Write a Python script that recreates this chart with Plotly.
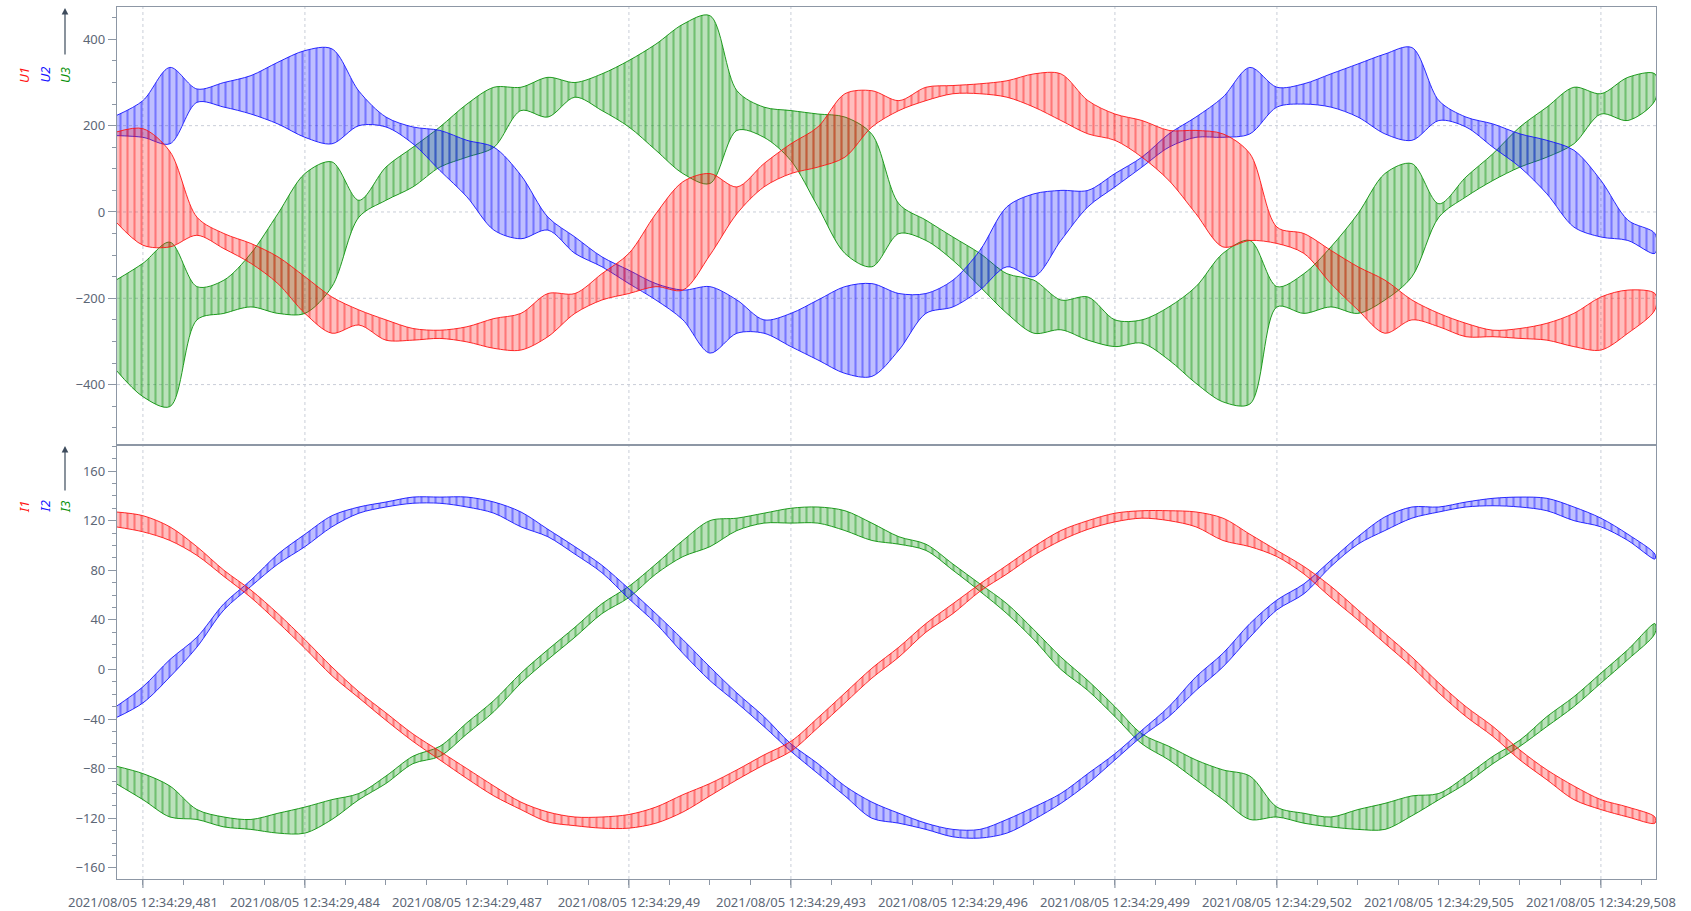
import plotly.graph_objects as go
from plotly.subplots import make_subplots

# Sample instants, in ms after 12:34:29,480
T_MS = [0.5, 1.0, 1.5, 2.0, 2.5, 3.0, 3.5, 4.0, 4.5, 5.0,
        5.5, 6.0, 6.5, 7.0, 7.5, 8.0, 8.5, 9.0, 9.5, 10.0,
        10.5, 11.0, 11.5, 12.0, 12.5, 13.0, 13.5, 14.0, 14.5, 15.0,
        15.5, 16.0, 16.5, 17.0, 17.5, 18.0, 18.5, 19.0, 19.5, 20.0,
        20.5, 21.0, 21.5, 22.0, 22.5, 23.0, 23.5, 24.0, 24.5, 25.0,
        25.5, 26.0, 26.5, 27.0, 27.5, 28.0, 28.5, 29.0]

# Voltages: upper / lower envelope of the switching ripple (V)
U1_HI = [185, 193, 140, -12, -50, -73, -104, -150, -197, -227,
         -250, -270, -274, -266, -247, -235, -189, -189, -143, -96,
         -4, 70, 89, 58, 112, 158, 197, 274, 281, 258,
         289, 293, 297, 304, 320, 320, 258, 227, 212, 189,
         189, 181, 135, -35, -50, -89, -127, -158, -204, -235,
         -258, -274, -270, -258, -235, -197, -181, -189]
U1_LO = [-23, -77, -81, -54, -85, -119, -166, -235, -281, -262,
         -297, -297, -293, -301, -316, -320, -289, -235, -204, -189,
         -173, -181, -100, -4, 58, 89, 104, 127, 197, 235,
         258, 274, 274, 266, 243, 212, 181, 166, 127, 73,
         -4, -81, -66, -73, -96, -166, -227, -281, -250, -266,
         -289, -289, -293, -297, -312, -320, -281, -227]
U2_HI = [223, 258, 335, 285, 300, 316, 347, 374, 378, 280,
         220, 197, 189, 166, 150, 85, -12, -58, -104, -135,
         -166, -181, -173, -204, -250, -235, -204, -173, -166, -189,
         -189, -158, -89, 12, 42, 50, 50, 89, 127, 181,
         220, 266, 335, 289, 297, 320, 343, 366, 381, 258,
         220, 204, 181, 166, 143, 73, -19, -50]
U2_LO = [177, 173, 158, 254, 243, 227, 204, 173, 158, 200,
         197, 158, 96, 35, -42, -62, -42, -96, -127, -166,
         -204, -250, -327, -281, -281, -312, -343, -374, -381, -320,
         -235, -220, -181, -127, -150, -66, 12, 58, 104, 150,
         173, 173, 181, 243, 250, 243, 220, 181, 166, 212,
         197, 150, 104, 42, -35, -58, -66, -96]
U3_HI = [-158, -119, -70, -173, -158, -96, -4, 89, 116, 27,
         104, 150, 197, 250, 289, 289, 312, 300, 320, 351,
         389, 435, 455, 281, 243, 235, 227, 220, 180, 19,
         -19, -58, -96, -143, -158, -204, -197, -250, -250, -220,
         -173, -96, -66, -173, -143, -81, -4, 89, 112, 19,
         81, 135, 197, 243, 289, 274, 312, 320]
U3_LO = [-366, -428, -451, -250, -235, -220, -235, -235, -173, -12,
         27, 58, 104, 127, 150, 235, 220, 266, 235, 197,
         143, 89, 66, 189, 173, 119, 12, -96, -127, -50,
         -66, -112, -173, -235, -281, -273, -297, -312, -304, -343,
         -397, -440, -445, -220, -235, -220, -235, -204, -150, -12,
         35, 73, 104, 127, 158, 227, 212, 258]

# Currents: upper / lower envelope (A)
I1_HI = [127, 124, 115, 99, 80, 64, 45, 24, 2, -18,
         -35, -52, -66, -80, -94, -107, -115, -119, -119, -117,
         -111, -101, -92, -81, -69, -58, -39, -19, 1, 18,
         37, 53, 69, 84, 99, 112, 120, 126, 128, 128,
         127, 122, 109, 96, 83, 67, 48, 29, 10, -11,
         -30, -46, -65, -81, -94, -105, -111, -119]
I1_LO = [115, 111, 104, 92, 75, 58, 38, 17, -5, -23,
         -41, -58, -73, -88, -102, -113, -123, -126, -128, -128,
         -124, -115, -102, -89, -77, -66, -47, -27, -7, 10,
         30, 45, 63, 77, 92, 104, 113, 119, 122, 120,
         115, 104, 99, 91, 77, 58, 40, 21, 2, -19,
         -38, -54, -73, -89, -105, -113, -119, -124]
I2_HI = [-30, -14, 8, 26, 53, 72, 93, 109, 124, 131,
         135, 139, 139, 139, 135, 127, 113, 99, 84, 65,
         45, 24, 2, -19, -38, -60, -76, -94, -107, -116,
         -124, -129, -129, -121, -111, -100, -84, -68, -49, -30,
         -6, 13, 37, 56, 69, 88, 107, 123, 131, 131,
         135, 138, 139, 138, 131, 122, 109, 93]
I2_LO = [-39, -27, -6, 18, 48, 67, 85, 99, 115, 126,
         131, 134, 134, 131, 126, 115, 107, 93, 78, 57,
         37, 13, -9, -27, -46, -66, -84, -102, -120, -124,
         -129, -135, -136, -132, -121, -108, -92, -73, -54, -38,
         -17, 2, 26, 48, 61, 83, 101, 112, 122, 127,
         131, 132, 131, 128, 120, 115, 104, 89]
I3_HI = [-78, -84, -94, -113, -119, -121, -116, -111, -105, -100,
         -86, -70, -62, -43, -25, -3, 16, 34, 53, 67,
         85, 104, 120, 122, 126, 130, 131, 128, 118, 107,
         101, 85, 69, 53, 32, 10, -9, -30, -52, -62,
         -73, -81, -86, -111, -116, -119, -113, -108, -102, -100,
         -86, -70, -57, -38, -22, -3, 16, 37]
I3_LO = [-92, -105, -119, -121, -127, -129, -132, -132, -121, -105,
         -92, -76, -70, -52, -34, -11, 8, 26, 45, 58,
         77, 91, 99, 112, 118, 118, 118, 112, 104, 101,
         96, 80, 63, 45, 24, 0, -17, -38, -60, -73,
         -89, -105, -121, -119, -124, -127, -129, -129, -118, -105,
         -92, -76, -62, -46, -30, -11, 8, 29]

# Time axis labels
TICK_POS = [1, 4, 7, 10, 13, 16, 19, 22, 25, 28]
TICK_TEXT = ["2021/08/05 12:34:29,481", "2021/08/05 12:34:29,484",
             "2021/08/05 12:34:29,487", "2021/08/05 12:34:29,49",
             "2021/08/05 12:34:29,493", "2021/08/05 12:34:29,496",
             "2021/08/05 12:34:29,499", "2021/08/05 12:34:29,502",
             "2021/08/05 12:34:29,505", "2021/08/05 12:34:29,508"]
GRID_POS = [1, 4, 10, 13, 19, 22, 28]
U_GRID = [-400, -200, 0, 200]
U_TICKS = [-400, -200, 0, 200, 400]
I_TICKS = [-160, -120, -80, -40, 0, 40, 80, 120, 160]

RED = (255, 20, 20)
BLUE = (20, 20, 255)
GREEN = (10, 145, 10)
AXIS = "#8d97a5"
GRID = "#c9ced8"
TEXT = "#5d6776"
FONT = "Noto Sans"

# pixel frame of the plotting area
W, H = 1691, 911
ML, MR, MT, MB = 117, 35, 7, 32
PW, PH = W - ML - MR, H - MT - MB
SPLIT = (879 - 445) / PH


def rgba(c, a):
    return f"rgba({c[0]},{c[1]},{c[2]},{a})"


def band(hi, lo, color, name):
    xs = T_MS + T_MS[::-1]
    ys = hi + lo[::-1]
    return go.Scatter(
        x=xs, y=ys, name=name, mode="lines", fill="toself",
        line=dict(color=rgba(color, 0.9), width=1, shape="spline", smoothing=0.9),
        fillcolor=rgba(color, 0.3),
        fillpattern=dict(shape="|", size=7, solidity=0.3,
                         fgcolor=rgba(color, 0.85), bgcolor=rgba(color, 0.28)),
        hoverinfo="skip", showlegend=False,
    )


fig = make_subplots(rows=2, cols=1, shared_xaxes=True, vertical_spacing=0)

fig.add_trace(band(U3_HI, U3_LO, GREEN, "U3"), row=1, col=1)
fig.add_trace(band(U2_HI, U2_LO, BLUE, "U2"), row=1, col=1)
fig.add_trace(band(U1_HI, U1_LO, RED, "U1"), row=1, col=1)

fig.add_trace(band(I3_HI, I3_LO, GREEN, "I3"), row=2, col=1)
fig.add_trace(band(I2_HI, I2_LO, BLUE, "I2"), row=2, col=1)
fig.add_trace(band(I1_HI, I1_LO, RED, "I1"), row=2, col=1)

frame = dict(showline=True, mirror=True, linecolor=AXIS, linewidth=1.3,
             zeroline=False, showgrid=False, automargin=False)

fig.update_xaxes(range=[0.52, 29.02], **frame)
fig.update_xaxes(showticklabels=False, ticks="", row=1, col=1)
fig.update_xaxes(
    tickmode="array", tickvals=TICK_POS, ticktext=TICK_TEXT, ticks="",
    ticklabelstandoff=11, tickfont=dict(family=FONT, size=13, color=TEXT),
    minor=dict(tickmode="linear", tick0=1, dtick=0.75, ticks="outside",
               ticklen=5, tickcolor=AXIS, showgrid=False),
    row=2, col=1)

fig.update_yaxes(
    range=[-540, 475], tickmode="array", tickvals=U_TICKS, ticks="outside",
    ticklen=8, tickcolor=AXIS, tickfont=dict(family=FONT, size=13, color=TEXT),
    minor=dict(tickmode="linear", tick0=0, dtick=50, ticks="outside",
               ticklen=4, tickcolor=AXIS, showgrid=False),
    row=1, col=1, **frame)
fig.update_yaxes(
    range=[-169, 181], tickmode="array", tickvals=I_TICKS, ticks="outside",
    ticklen=8, tickcolor=AXIS, tickfont=dict(family=FONT, size=13, color=TEXT),
    minor=dict(tickmode="linear", tick0=0, dtick=10, ticks="outside",
               ticklen=4, tickcolor=AXIS, showgrid=False),
    row=2, col=1, **frame)

# dotted time gridlines through both panels, with a long tick under the axis
for g in GRID_POS:
    fig.add_shape(type="line", xref="x", yref="paper", x0=g, x1=g, y0=0, y1=1,
                  line=dict(color=GRID, width=1, dash="dot"), layer="below")
    fig.add_shape(type="line", xref="x", yref="paper", x0=g, x1=g,
                  y0=0, y1=-9 / PH, line=dict(color=AXIS, width=1.2))

# dotted voltage gridlines in the upper panel
for v in U_GRID:
    fig.add_shape(type="line", xref="paper", yref="y", x0=0, x1=1, y0=v, y1=v,
                  line=dict(color=GRID, width=1, dash="dot"), layer="below")


def px_x(x):
    return (x - ML) / PW


def px_y(y):
    return (H - MB - y) / PH


def axis_caption(names, y_mid, head_y, tail_y):
    cols = [RED, BLUE, GREEN]
    xs = [24, 44.5, 65]
    for name, c, x in zip(names, cols, xs):
        fig.add_annotation(
            text=f"<i>{name}</i>", xref="paper", yref="paper",
            x=px_x(x), y=px_y(y_mid), xanchor="center", yanchor="middle",
            textangle=-90, showarrow=False,
            font=dict(family=FONT, size=13, color=rgba(c, 1)))
    fig.add_annotation(
        text="", xref="paper", yref="paper", x=px_x(65), y=px_y(head_y),
        showarrow=True, ax=0, ay=tail_y - head_y, arrowhead=2, arrowsize=1.1,
        arrowwidth=1.2, arrowcolor="#3d4b5c")


axis_caption(["U1", "U2", "U3"], 75, 8, 56)
axis_caption(["I1", "I2", "I3"], 507, 446, 492)

fig.update_layout(
    width=W, height=H,
    margin=dict(l=ML, r=MR, t=MT, b=MB, autoexpand=False),
    paper_bgcolor="white", plot_bgcolor="white",
    font=dict(family=FONT, size=13, color=TEXT),
    yaxis=dict(domain=[SPLIT, 1]),
    yaxis2=dict(domain=[0, SPLIT]),
    showlegend=False,
)

fig.write_html("out.html")
